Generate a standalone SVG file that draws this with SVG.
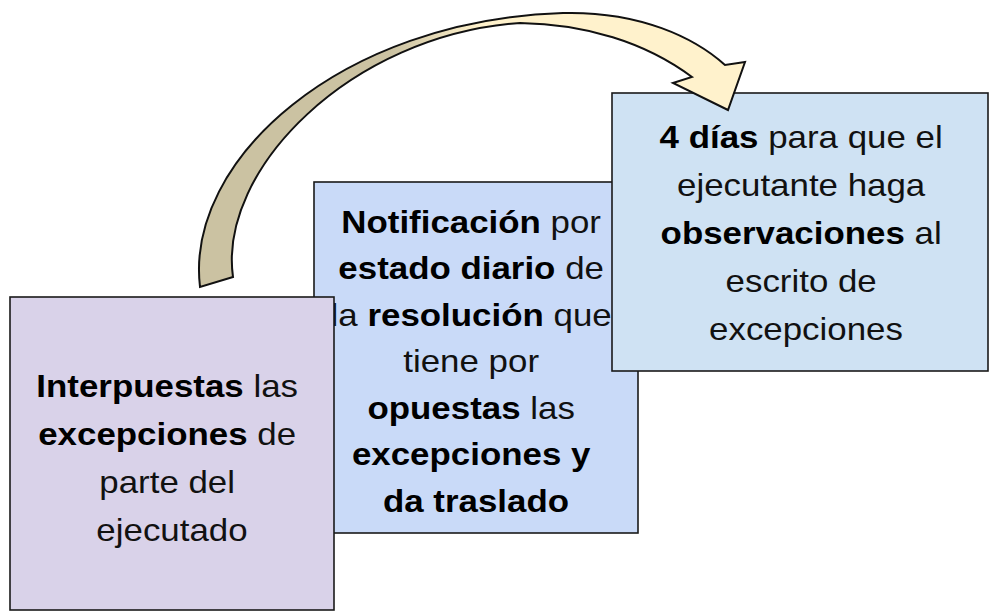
<svg xmlns="http://www.w3.org/2000/svg" width="990" height="612" viewBox="0 0 990 612">
  <defs>
    <linearGradient id="arrowGrad" gradientUnits="userSpaceOnUse" x1="390" y1="0" x2="480" y2="0">
      <stop offset="0" stop-color="#cbc2a2"/>
      <stop offset="1" stop-color="#fff2cc"/>
    </linearGradient>
  </defs>
  <style>
    .box { stroke: #1a1a1a; stroke-width: 1.6; }
    .t { font-family: "Liberation Sans", Arial, sans-serif; font-size: 32px; fill: #111; text-anchor: middle; }
    .b { font-weight: bold; fill: #000; }
    .arrow { fill: url(#arrowGrad); stroke: #111; stroke-width: 2; stroke-linejoin: miter; }
  </style>
  <rect width="990" height="612" fill="#ffffff"/>

  <g id="node2">
    <rect class="box" x="314" y="182" width="324" height="351" fill="#c9daf8"/>
    <text class="t" transform="translate(476,0) scale(1.09,1)">
      <tspan x="0" y="233"><tspan class="b">Notificación</tspan> por</tspan>
      <tspan x="0" y="279.5"><tspan class="b">estado diario</tspan> de</tspan>
      <tspan x="0" y="326">la <tspan class="b">resolución</tspan> que</tspan>
      <tspan x="0" y="372.5">tiene por</tspan>
      <tspan x="0" y="419"><tspan class="b">opuestas</tspan> las</tspan>
      <tspan x="0" y="465.5" class="b">excepciones y</tspan>
      <tspan x="0" y="512" class="b">da traslado</tspan>
    </text>
  </g>

  <g id="node1">
    <rect class="box" x="10" y="297" width="324" height="313" fill="#d9d2e9"/>
    <text class="t" transform="translate(172,0) scale(1.09,1)">
      <tspan x="0" y="397"><tspan class="b">Interpuestas</tspan> las</tspan>
      <tspan x="0" y="445"><tspan class="b">excepciones</tspan> de</tspan>
      <tspan x="0" y="493">parte del</tspan>
      <tspan x="0" y="541">ejecutado</tspan>
    </text>
  </g>

  <g id="node3">
    <rect class="box" x="612" y="93" width="376" height="278" fill="#cfe2f3"/>
    <text class="t" transform="translate(806,0) scale(1.09,1)">
      <tspan x="0" y="148"><tspan class="b">4 días</tspan> para que el</tspan>
      <tspan x="0" y="196">ejecutante haga</tspan>
      <tspan x="0" y="244"><tspan class="b">observaciones</tspan> al</tspan>
      <tspan x="0" y="292">escrito de</tspan>
      <tspan x="0" y="340">excepciones</tspan>
    </text>
  </g>

  <g id="connectors">
    <path class="arrow" d="M200,287
      C185,160 340,20 563,13
      C640,11 695,38 725,65
      L745,62 L728,110 L673,83 L692,77
      C645,42 585,24 520,23
      C350,35 218,170 233,277 Z"/>
  </g>
</svg>
